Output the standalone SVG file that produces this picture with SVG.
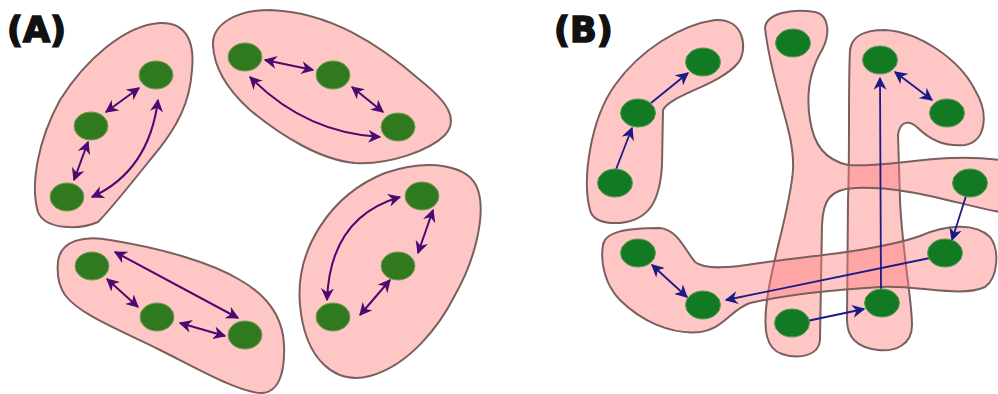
<svg xmlns="http://www.w3.org/2000/svg" width="998" height="394" viewBox="0 0 998 394">
<style>
.lbl{font-family:"DejaVu Sans","Liberation Sans",sans-serif;font-weight:bold;font-size:35px;fill:#111;stroke:#111;stroke-width:1.6}
.blob{fill:#ff7a7a;fill-opacity:0.43;stroke:#7a5f5f;stroke-width:2}
.na{fill:#2f7a1e;stroke:#7a9a55;stroke-width:1}
.nb{fill:#137a24;stroke:#5e9a55;stroke-width:1}
.ca{fill:none;stroke:#4a0a70;stroke-width:2;marker-end:url(#ha);marker-start:url(#ha)}
.cb{fill:none;stroke:#1c1a86;stroke-width:1.8;marker-end:url(#hb)}
.cb2{marker-start:url(#hb)}
</style>
<defs>
<marker id="ha" viewBox="0 0 10 10" refX="9" refY="5" markerWidth="13" markerHeight="13" markerUnits="userSpaceOnUse" orient="auto-start-reverse"><path d="M0,0 L10,5 L0,10 L3,5 z" fill="#4a0a70"/></marker>
<marker id="hb" viewBox="0 0 10 10" refX="9" refY="5" markerWidth="13" markerHeight="13" markerUnits="userSpaceOnUse" orient="auto-start-reverse"><path d="M0,0 L10,5 L0,10 L3,5 z" fill="#1c1a86"/></marker>
</defs>
<rect width="998" height="394" fill="#fff"/>
<text class="lbl" x="7" y="42">(A)</text>
<text class="lbl" x="554" y="42">(B)</text>

<g id="clusterA1"><path class="blob" d="M38,212 C30,185 38,140 60,100 C85,60 125,25 160,23 C185,22 195,40 192,70 C190,100 180,125 150,160 C130,185 110,210 98,222 C80,230 45,230 38,212 Z"/></g>
<g id="clusterA2"><path class="blob" d="M213,45 C212,25 235,10 270,10 C330,12 380,45 420,80 C445,100 460,118 445,135 C430,150 390,165 355,163 C320,160 280,135 250,110 C230,92 214,70 213,45 Z"/></g>
<g id="clusterA3"><path class="blob" d="M58,262 C60,240 85,235 110,240 C160,248 210,262 240,280 C270,297 283,320 284,345 C285,370 280,392 262,393 C240,393 200,370 160,350 C120,330 80,315 65,295 C58,285 57,272 58,262 Z"/></g>
<g id="clusterA4"><path class="blob" d="M300,305 C295,250 330,195 385,173 C430,158 470,165 478,190 C486,215 475,260 455,295 C440,325 410,365 370,376 C335,385 305,360 300,305 Z"/></g>

<g id="clusterB1"><path class="blob" d="M590,210 C582,180 590,120 615,85 C640,50 680,25 715,20 C745,18 748,50 738,63 C720,85 670,95 663,110 L662,165 C660,200 650,220 620,223 C600,224 592,218 590,210 Z"/></g>
<g id="clusterB3"><path class="blob" d="M850,50 C852,35 865,30 885,30 C920,32 960,60 975,90 C990,115 985,142 965,145 C945,147 930,140 918,128 C910,120 900,120 898,135 L900,200 C902,250 912,300 912,325 C912,345 895,352 878,350 C860,348 847,340 847,320 L848,200 C850,150 848,90 850,50 Z"/></g>
<g id="clusterB2"><path class="blob" d="M765,28 C766,14 790,8 815,12 C830,15 830,35 822,50 C810,70 806,95 810,120 C814,145 825,160 848,165 C890,168 940,152 1000,160 L1000,212 C960,205 910,186 855,188 C830,189 823,200 822,225 L820,340 C819,355 800,360 782,354 C766,349 763,330 767,300 C772,260 790,210 793,170 C795,130 772,90 765,28 Z"/></g>
<g id="clusterB4"><path class="blob" d="M603,245 C605,232 625,228 660,228 C678,230 685,250 695,262 C705,270 730,268 760,263 C820,255 880,250 920,236 C945,225 975,222 990,237 C1000,250 998,278 985,287 C960,298 920,285 880,287 C830,290 780,296 750,303 C730,310 725,328 700,332 C670,335 640,320 620,300 C605,285 600,262 603,245 Z"/></g>

<g id="connectors">
<path class="ca" d="M139,88 L106,112"/>
<path class="ca" d="M88,142 L74,180"/>
<path class="ca" d="M158,100 Q149,171 92,197"/>
<path class="ca" d="M265,60 L313,70"/>
<path class="ca" d="M352,87 L383,112"/>
<path class="ca" d="M250,77 Q305,133 380,137"/>
<path class="ca" d="M107,279 L138,307"/>
<path class="ca" d="M180,323 L225,336"/>
<path class="ca" d="M115,252 L238,318"/>
<path class="ca" d="M433,210 L418,253"/>
<path class="ca" d="M390,280 L360,315"/>
<path class="ca" d="M400,197 Q330,217 327,300"/>
<path class="cb" d="M615,172 L632,128"/>
<path class="cb" d="M651,103 L688,73"/>
<path class="cb cb2" d="M895,72 L932,100"/>
<path class="cb" d="M881,292 L880,78"/>
<path class="cb" d="M807,321 L864,309"/>
<path class="cb" d="M966,196 L952,240"/>
<path class="cb" d="M930,258 L726,300"/>
<path class="cb cb2" d="M652,265 L687,297"/>
</g>

<g id="a1n1"><ellipse class="na" cx="156" cy="75" rx="17" ry="14"/></g>
<g id="a1n2"><ellipse class="na" cx="91" cy="126" rx="17" ry="14"/></g>
<g id="a1n3"><ellipse class="na" cx="67" cy="197" rx="17" ry="14"/></g>
<g id="a2n1"><ellipse class="na" cx="245" cy="57" rx="17" ry="14"/></g>
<g id="a2n2"><ellipse class="na" cx="333" cy="75" rx="17" ry="14"/></g>
<g id="a2n3"><ellipse class="na" cx="398" cy="127" rx="17" ry="14"/></g>
<g id="a3n1"><ellipse class="na" cx="92" cy="266" rx="17" ry="14"/></g>
<g id="a3n2"><ellipse class="na" cx="157" cy="317" rx="17" ry="14"/></g>
<g id="a3n3"><ellipse class="na" cx="245" cy="335" rx="17" ry="14"/></g>
<g id="a4n1"><ellipse class="na" cx="422" cy="196" rx="17" ry="14"/></g>
<g id="a4n2"><ellipse class="na" cx="398" cy="266" rx="17" ry="14"/></g>
<g id="a4n3"><ellipse class="na" cx="333" cy="317" rx="17" ry="14"/></g>

<g id="b1n1"><ellipse class="nb" cx="703" cy="62" rx="17.5" ry="14"/></g>
<g id="b1n2"><ellipse class="nb" cx="638" cy="113" rx="17.5" ry="14"/></g>
<g id="b1n3"><ellipse class="nb" cx="615" cy="183" rx="17.5" ry="14"/></g>
<g id="b2n1"><ellipse class="nb" cx="793" cy="43" rx="17.5" ry="14"/></g>
<g id="b2n2"><ellipse class="nb" cx="970" cy="183" rx="17.5" ry="14"/></g>
<g id="b2n3"><ellipse class="nb" cx="792" cy="323" rx="17.5" ry="14"/></g>
<g id="b3n1"><ellipse class="nb" cx="880" cy="60" rx="17.5" ry="14"/></g>
<g id="b3n2"><ellipse class="nb" cx="947" cy="113" rx="17.5" ry="14"/></g>
<g id="b3n3"><ellipse class="nb" cx="882" cy="303" rx="17.5" ry="14"/></g>
<g id="b4n1"><ellipse class="nb" cx="638" cy="253" rx="17.5" ry="14"/></g>
<g id="b4n2"><ellipse class="nb" cx="703" cy="305" rx="17.5" ry="14"/></g>
<g id="b4n3"><ellipse class="nb" cx="945" cy="253" rx="17.5" ry="14"/></g>
</svg>
